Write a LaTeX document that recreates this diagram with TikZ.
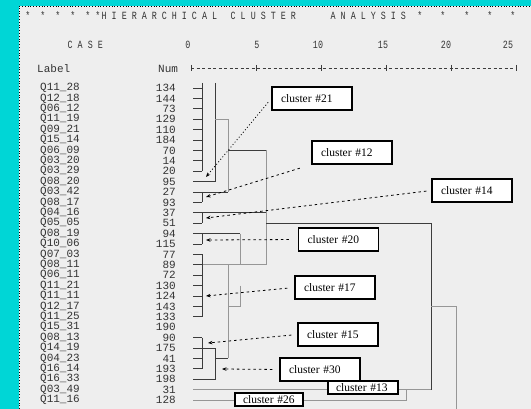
\documentclass[tikz,border=0pt]{standalone}
\usepackage{fontspec}
\usepackage{tikz}
\usetikzlibrary{arrows.meta}
\newfontfamily\casefont{Liberation Mono}
\newfontfamily\headfont{Liberation Mono}[FakeStretch=0.76]
\newfontfamily\boxfont{Liberation Serif}
\definecolor{screencyan}{RGB}{0,214,214}
\definecolor{panelgray}{RGB}{238,238,238}
\definecolor{treeink}{RGB}{60,60,60}
\definecolor{treelight}{RGB}{150,150,150}
\newcommand\rowy[1]{(88+(#1-1)*10.4)}

\begin{document}
\begin{tikzpicture}[x=1pt,y=-1pt,>=Stealth,
  tree/.style={line width=0.9pt,draw=treeink},
  treelt/.style={line width=0.9pt,draw=treelight},
  headtext/.style={font=\headfont\fontsize{11}{11}\selectfont,text=black!80,inner sep=0pt},
  casetext/.style={font=\casefont\fontsize{11}{11}\selectfont,text=black!80,inner sep=0pt},
  clubox/.style={draw=black,line width=1.3pt,fill=white,minimum height=23pt,text width=62pt,
    inner xsep=9pt,inner ysep=0pt,align=left,font=\boxfont\fontsize{11.5}{12}\selectfont},
  smallbox/.style={clubox,minimum height=13pt,text width=54pt,inner xsep=8pt},
  callout/.style={line width=0.8pt,dash pattern=on 2.5pt off 3pt,shorten <=5pt,
    -{Stealth[length=4.5pt,width=3.5pt]}},
  calldot/.style={callout,dash pattern=on 1pt off 2.2pt}]
\useasboundingbox (0,0) rectangle (531,409);
\fill[screencyan] (0,0) rectangle (531,409);
\fill[panelgray] (19,6) rectangle (531,409);
\draw[line width=0.8pt,dotted] (19,409) -- (19,6) -- (531,6);

% heading
\foreach \x [count=\k] in {28,43,58,73,88,98}
  \node[headtext] (stl\k) at (\x,16) {*};
\foreach \x [count=\k] in {420,443,467,490,513}
  \node[headtext] (str\k) at (\x,16) {*};
\node[headtext,anchor=west] (ttlA) at (101.5,16) {H I E R A R C H I C A L};
\node[headtext,anchor=west] (ttlB) at (230.5,16) {C L U S T E R};
\node[headtext,anchor=west] (ttlC) at (330.5,16) {A N A L Y S I S};
\node[headtext,anchor=west] (hcase) at (67.5,45) {C A S E};
\foreach \v/\x in {0/188,5/257,10/318,15/383,20/446,25/508}
  \node[headtext] (ax\v) at (\x,45) {\v};
\node[casetext,anchor=west] (hlabel) at (37,69) {Label};
\node[casetext,anchor=west] (hnum) at (158,69) {Num};
\draw[treeink,line width=0.7pt,dash pattern=on 3pt off 2.5pt] (191,68) -- (515,68);
\foreach \k in {0,...,5}
  \draw[treeink,line width=0.8pt] ({191+65*\k},65) -- ++(0,6);

% cases
\foreach \lab/\num [count=\i] in {Q11\_28/134,Q12\_18/144,Q06\_12/73,Q11\_19/129,Q09\_21/110,
    Q15\_14/184,Q06\_09/70,Q03\_20/14,Q03\_29/20,Q08\_20/95,Q03\_42/27,Q08\_17/93,Q04\_16/37,
    Q05\_05/51,Q08\_19/94,Q10\_06/115,Q07\_03/77,Q08\_11/89,Q06\_11/72,Q11\_21/130,Q11\_11/124,
    Q12\_17/143,Q11\_25/133,Q15\_31/190,Q08\_13/90,Q14\_19/175,Q04\_23/41,Q16\_14/193,
    Q16\_33/198,Q03\_49/31,Q11\_16/128}{
  \node[casetext,anchor=west] (lab\i) at (40,{\rowy{\i}}) {\lab};
  \node[casetext,anchor=east] (num\i) at (176,{\rowy{\i}}) {\num};
}

% tree
\foreach \r in {1,...,9,12,14,16,17,18,19,20,21,22,23,25,27,28}
  \draw[tree] (193,{\rowy{\r}}) -- ++(9,0);
\draw[tree] (202,83) -- (202,{\rowy{9}});
\draw[tree] (215,83) -- (215,{\rowy{10}}) -- (193,{\rowy{10}});
\draw[treelt] (215,{\rowy{4}}) -- (228,{\rowy{4}}) -- (228,{\rowy{11}});
\draw[tree] (193,{\rowy{11}}) -- (228,{\rowy{11}});
\draw[tree] (202,{\rowy{11}}) -- (202,{\rowy{12}});
\draw[tree] (228,{\rowy{7}}) -- (266,{\rowy{7}});
\draw[treelt] (266,{\rowy{7}}) -- (266,{\rowy{18}});
\draw[tree] (193,{\rowy{13}}) -- (266,{\rowy{13}});
\draw[tree] (202,{\rowy{13}}) -- (202,{\rowy{14}});
\draw[tree] (193,{\rowy{15}}) -- (240,{\rowy{15}});
\draw[tree] (202,{\rowy{15}}) -- (202,{\rowy{16}});
\draw[treelt] (240,{\rowy{15}}) -- (240,{\rowy{18}});
\draw[treelt] (202,{\rowy{18}}) -- (266,{\rowy{18}});
\draw[tree] (202,{\rowy{17}}) -- (202,{\rowy{23}});
\draw[treelt] (228,{\rowy{18}}) -- (228,{\rowy{27}});
\draw[treelt] (240,{\rowy{20}}) -- (240,{\rowy{22}}) -- (228,{\rowy{22}});
\draw[tree] (202,{\rowy{25}}) -- (202,{\rowy{28}});
\draw[tree] (193,{\rowy{26}}) -- (215,{\rowy{26}}) -- (215,{\rowy{29}}) -- (193,{\rowy{29}});
\draw[tree] (215,{\rowy{27}}) -- (228,{\rowy{27}});
\draw[treelt] (193,{\rowy{30}}) -- (431,{\rowy{30}});
\draw[treelt] (193,{\rowy{31}}) -- (406,{\rowy{31}}) -- (406,{\rowy{30}});
\draw[tree] (266,{\rowy{14}}) -- (431,{\rowy{14}}) -- (431,{\rowy{30}});
\draw[treelt] (431,{\rowy{22}}) -- (456,{\rowy{22}}) -- (456,409);

% cluster boxes
\node[clubox] (c21) at (312,98.5) {cluster \#21};
\node[clubox] (c12) at (352,152.5) {cluster \#12};
\node[clubox] (c14) at (472,190.5) {cluster \#14};
\node[clubox] (c20) at (338.5,239.5) {cluster \#20};
\node[clubox] (c17) at (335,287.5) {cluster \#17};
\node[clubox] (c15) at (338,334.5) {cluster \#15};
\node[clubox] (c30) at (320,369.5) {cluster \#30};
\node[smallbox] (c13) at (363,387.5) {cluster \#13};
\node[smallbox,text width=52pt] (c26) at (269,399.5) {cluster \#26};

% pointers
\coordinate (p21) at (206,177);
\coordinate (p12) at (206,197);
\coordinate (p14) at (206,218);
\coordinate (p20) at (206,240);
\coordinate (p17) at (206,296);
\coordinate (p15) at (208,343);
\coordinate (p30) at (222,369);
\draw[calldot] (c21.west) -- (p21);
\draw[callout,shorten <=12pt] (c12.south west) -- (p12);
\draw[callout] (c14.west) -- (p14);
\draw[callout,shorten <=9pt] (c20.west) -- (p20);
\draw[callout,shorten <=7pt] (c17.west) -- (p17);
\draw[callout,shorten <=6pt] (c15.west) -- (p15);
\draw[callout,shorten <=7pt] (c30.west) -- (p30);
\end{tikzpicture}
\end{document}
